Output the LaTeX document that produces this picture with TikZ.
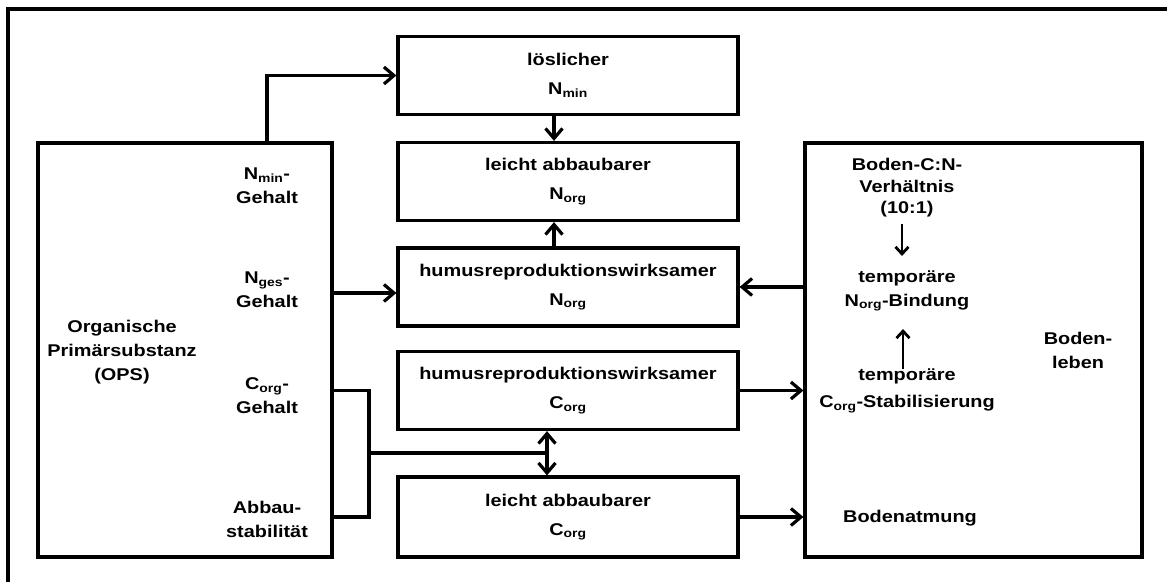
\documentclass[tikz,border=0pt]{standalone}
\usepackage{fontspec}
\setmainfont{Liberation Sans}[FakeStretch=1.17]
\usetikzlibrary{positioning,arrows.meta}

\begin{document}
\begin{tikzpicture}[x=1pt,y=-1pt,>={Straight Barb[length=10pt,width=17pt]},line width=3.2pt,font=\fontsize{17}{24}\selectfont\bfseries]
\tikzstyle{box}=[rectangle,draw,inner sep=0pt,minimum width=340pt,minimum height=78pt,align=center,font=\fontsize{17}{29}\selectfont\bfseries]
\tikzstyle{big}=[rectangle,draw,inner sep=0pt,minimum width=294pt,minimum height=414pt]
\tikzstyle{lbl}=[align=center,inner sep=1pt]

% Frame (cut by the page)
\clip (0,0) rectangle (1167,581);
\draw[line width=3.2pt] (8,600) -- (8,9) -- (1180,9);

% Left block: OPS
\node[big] (ops) at (185,350) {};
\node[lbl] (tops) at (122,352) {Organische\\Primärsubstanz\\(OPS)};
\node[lbl] (tnmin) at (267,186) {N\textsubscript{min}-\\Gehalt};
\node[lbl] (tnges) at (267,290) {N\textsubscript{ges}-\\Gehalt};
\node[lbl] (tcorg) at (267,396) {C\textsubscript{org}-\\Gehalt};
\node[lbl] (tabbau) at (267,519) {Abbau-\\stabilität};

% Middle column
\node[box] (nmin) at (568,75.5) {löslicher\\N\textsubscript{min}};
\node[box] (nleicht) at (568,181.5) {leicht abbaubarer\\N\textsubscript{org}};
\node[box] (nhumus) at (568,287) {humusreproduktionswirksamer\\N\textsubscript{org}};
\node[box] (chumus) at (568,390.5) {humusreproduktionswirksamer\\C\textsubscript{org}};
\node[box,minimum height=80pt] (cleicht) at (568,517) {leicht abbaubarer\\C\textsubscript{org}};

% Right block: Bodenleben
\node[big,minimum width=337pt] (boden) at (973.5,350) {};
\node[lbl,font=\fontsize{17}{21.5}\selectfont\bfseries] (tcn) at (907,188) {Boden-C:N-\\Verhältnis\\(10:1)};
\node[lbl] (tnbind) at (907,291) {temporäre\\N\textsubscript{org}-Bindung};
\node[lbl,font=\fontsize{17}{27}\selectfont\bfseries] (tcstab) at (907,391) {temporäre\\C\textsubscript{org}-Stabilisierung};
\node[lbl] (tleben) at (1078,350) {Boden-\\leben};
\node[lbl] (tatm) at (910,518) {Bodenatmung};

% Flows from OPS
\draw[->] (tnmin |- ops.north) |- (nmin.west);
\draw[->] ([yshift=-6pt]ops.east |- nhumus) -- ([yshift=-6pt]nhumus.west);
\coordinate (brk) at (369,453);
\draw (ops.east |- chumus) -| (brk) |- (ops.east |- cleicht);
\draw (brk) -- ([xshift=-21pt]chumus.south |- brk);

% Middle column flows
\draw[->] ([xshift=-14pt]nmin.south) -- ([xshift=-14pt]nleicht.north);
\draw[->] ([xshift=-14pt]nhumus.north) -- ([xshift=-14pt]nleicht.south);
\draw[<->] ([xshift=-21pt]chumus.south) -- ([xshift=-21pt]cleicht.north);

% Exchange with Bodenleben
\draw[->] (boden.west |- nhumus) -- (nhumus.east);
\draw[->] (chumus.east) -- (boden.west |- chumus);
\draw[->] (cleicht.east) -- (boden.west |- cleicht);

% Inside Bodenleben
\draw[->,line width=2.8pt,>={Straight Barb[length=7pt,width=13pt]}] ([xshift=-5pt]tcn.south) ++(0,4) -- ([xshift=-5pt,yshift=12pt]tnbind.north);
\draw[->,line width=2.8pt,>={Straight Barb[length=7pt,width=13pt]}] ([xshift=-4pt,yshift=-3pt]tcstab.north) -- ([xshift=-4pt,yshift=-15pt]tnbind.south);
\end{tikzpicture}
\end{document}
